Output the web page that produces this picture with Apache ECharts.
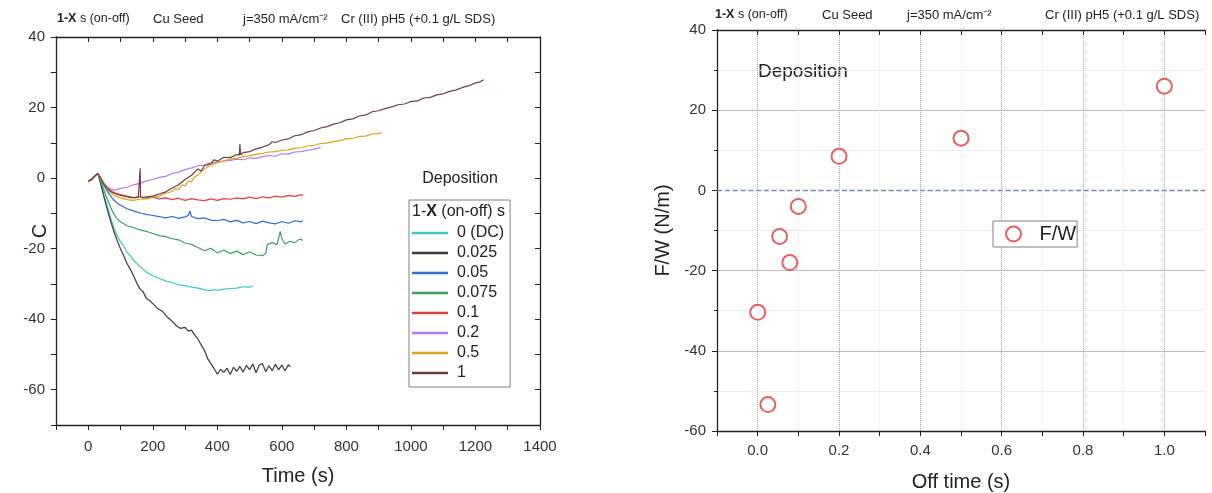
<!DOCTYPE html>
<html>
<head>
<meta charset="utf-8">
<script src="https://cdn.jsdelivr.net/npm/echarts@6/dist/echarts.min.js"></script>
<style>
html,body{margin:0;padding:0;background:#fff;}
#chart{width:1212px;height:493px;}
</style>
</head>
<body>
<div id="chart"></div>
<script>
// ---------- Data (left panel: charge vs time) ----------
const seriesNames = ['0 (DC)', '0.025', '0.05', '0.075', '0.1', '0.2', '0.5', '1'];
const seriesColors = ['#3ec6c8', '#3a3a3a', '#2f6ccc', '#3f9e63', '#e2403f', '#b57be6', '#d8a51e', '#6e3d42'];

const dDC = [[0,-0.8],[10,-0.5],[20,0.6],[30,1.3],[40,-1.8],[50,-5.2],[60,-8.3],[70,-11.5],[80,-14.2],[90,-16.4],[100,-18.1],[110,-19.3],[120,-21.0],[130,-22.0],[140,-23.3],[160,-25.1],[180,-26.6],[200,-27.7],[220,-28.4],[240,-29.2],[260,-29.6],[280,-30.3],[300,-30.5],[320,-30.9],[340,-31.2],[360,-31.7],[380,-31.9],[390,-31.6],[400,-31.8],[420,-31.5],[440,-31.3],[460,-31.2],[480,-30.8],[500,-30.9],[510,-30.6]];
const d0025 = [[0,-0.8],[10,-0.5],[20,0.6],[30,1.3],[40,-2.2],[50,-5.8],[60,-9.2],[70,-12.4],[80,-15.3],[90,-17.8],[100,-20.1],[110,-22.0],[120,-24.2],[130,-25.8],[140,-27.6],[150,-29.7],[160,-31.4],[170,-32.2],[180,-34.1],[190,-34.7],[200,-35.6],[215,-37.0],[230,-37.8],[245,-39.4],[260,-40.6],[275,-42.0],[285,-42.6],[300,-42.3],[310,-43.4],[320,-43.1],[330,-44.5],[340,-45.6],[350,-47.3],[360,-48.8],[370,-51.2],[380,-52.6],[390,-54.0],[400,-55.6],[410,-54.2],[420,-55.1],[430,-53.9],[440,-55.7],[450,-53.6],[460,-54.8],[470,-53.4],[480,-55.0],[490,-53.1],[500,-54.3],[510,-52.7],[520,-55.2],[530,-53.0],[540,-52.6],[550,-54.9],[560,-53.2],[570,-54.6],[580,-52.8],[590,-54.3],[600,-53.0],[610,-54.7],[620,-52.9],[625,-53.5]];
const d005 = [[0,-0.8],[10,-0.5],[20,0.6],[30,1.3],[40,-0.6],[50,-2.4],[60,-3.9],[70,-5.2],[80,-6.3],[90,-7.1],[100,-7.7],[120,-8.7],[140,-9.3],[160,-9.9],[180,-10.3],[200,-10.6],[220,-10.9],[240,-11.3],[260,-10.9],[280,-11.4],[300,-11.0],[310,-10.6],[315,-9.3],[320,-10.9],[340,-11.5],[360,-11.3],[380,-11.9],[400,-12.1],[420,-11.7],[440,-12.4],[460,-12.0],[480,-12.7],[500,-12.3],[520,-12.9],[540,-12.2],[560,-12.7],[580,-13.0],[600,-12.3],[620,-12.8],[640,-12.1],[660,-12.4],[665,-12.0]];
const d0075 = [[0,-0.8],[10,-0.5],[20,0.6],[30,1.3],[40,-1.2],[50,-3.8],[60,-6.2],[70,-8.4],[80,-10.3],[90,-11.6],[100,-12.4],[120,-13.5],[140,-14.0],[160,-14.7],[180,-15.1],[200,-15.7],[220,-16.3],[240,-16.6],[260,-17.2],[280,-17.5],[300,-18.4],[320,-18.8],[340,-19.7],[360,-20.6],[380,-19.9],[400,-21.2],[420,-20.4],[440,-21.4],[460,-20.7],[480,-21.7],[500,-20.9],[520,-21.8],[540,-22.0],[550,-21.4],[555,-18.8],[570,-18.3],[585,-18.9],[595,-15.1],[600,-17.2],[610,-18.7],[625,-17.9],[640,-18.3],[655,-17.3],[665,-17.6]];
const d01 = [[0,-0.8],[10,-0.5],[20,0.6],[30,1.3],[40,-0.2],[50,-1.6],[60,-2.9],[70,-3.6],[80,-4.1],[100,-4.7],[120,-5.1],[140,-5.5],[160,-5.3],[180,-5.7],[200,-5.4],[220,-5.9],[240,-5.6],[260,-6.1],[280,-5.7],[300,-6.3],[320,-5.8],[340,-6.2],[360,-6.4],[380,-5.9],[400,-6.3],[420,-5.8],[440,-6.0],[460,-5.6],[480,-5.9],[500,-5.4],[520,-5.8],[540,-5.3],[560,-5.6],[580,-5.1],[600,-5.4],[620,-4.9],[640,-5.2],[660,-4.7],[665,-4.9]];
const d02 = [[0,-0.8],[10,-0.5],[20,0.6],[30,1.3],[40,-0.4],[50,-1.7],[60,-2.6],[70,-3.1],[80,-3.4],[90,-3.2],[100,-2.9],[120,-2.6],[140,-1.9],[160,-1.5],[180,-0.8],[200,-0.4],[220,0.2],[240,0.5],[260,1.3],[280,1.7],[300,2.4],[320,2.9],[340,3.5],[360,3.7],[380,4.3],[400,4.5],[420,4.9],[440,5.0],[460,5.4],[480,5.2],[500,5.7],[520,5.6],[540,6.1],[560,6.4],[580,6.2],[600,6.9],[620,6.8],[640,7.4],[660,7.5],[680,7.9],[700,8.2],[720,8.7]];
const d05 = [[0,-0.8],[10,-0.5],[20,0.6],[30,1.3],[40,-0.5],[50,-2.1],[60,-3.3],[70,-4.2],[80,-4.9],[100,-5.6],[120,-6.1],[140,-6.3],[160,-6.0],[180,-5.9],[200,-5.4],[220,-5.1],[240,-4.3],[260,-3.8],[270,-3.0],[280,-3.3],[290,-1.9],[300,-2.2],[310,-0.8],[320,-1.1],[330,0.4],[340,0.9],[350,1.8],[360,2.6],[380,3.7],[400,4.4],[420,4.8],[440,5.4],[460,5.6],[480,6.1],[500,6.3],[520,6.8],[540,7.0],[560,7.4],[580,7.5],[600,7.9],[620,8.0],[640,8.5],[660,8.6],[680,9.1],[700,9.3],[720,9.8],[740,9.9],[760,10.4],[780,10.6],[800,11.2],[820,11.3],[840,11.8],[860,11.9],[880,12.5],[900,12.6],[910,12.9]];
const d1 = [[0,-0.8],[10,-0.5],[20,0.6],[30,1.3],[40,-0.3],[50,-2.0],[60,-3.0],[70,-3.8],[80,-4.3],[100,-4.9],[120,-5.3],[140,-5.6],[155,-5.4],[160,-5.5],[161,2.8],[162,-5.2],[170,-5.6],[180,-5.3],[200,-5.1],[220,-4.5],[240,-3.9],[260,-2.8],[280,-1.9],[300,-0.4],[320,0.8],[340,2.6],[350,2.0],[360,3.5],[380,4.1],[390,5.2],[400,4.8],[420,5.9],[440,5.8],[460,6.7],[468,6.5],[470,9.6],[472,6.6],[480,7.2],[500,7.5],[520,8.3],[540,8.8],[560,9.4],[570,10.3],[580,10.1],[600,10.8],[620,11.1],[640,12.0],[660,12.3],[680,13.1],[700,13.5],[720,14.2],[740,14.6],[760,15.3],[780,15.7],[800,16.5],[820,16.8],[840,17.6],[860,17.9],[880,18.8],[900,19.1],[920,19.7],[940,20.2],[960,20.8],[980,21.0],[1000,21.7],[1020,21.9],[1040,22.7],[1060,22.9],[1080,23.6],[1100,23.9],[1120,24.6],[1140,25.0],[1160,25.7],[1180,26.2],[1200,27.0],[1215,27.3],[1225,27.9]];
const seriesData = [dDC, d0025, d005, d0075, d01, d02, d05, d1];

// ---------- Data (right panel: F/W vs off time) ----------
const offTime = [0, 0.025, 0.054, 0.079, 0.1, 0.2, 0.5, 1.0];
const fwValues = [-30.4, -53.4, -11.5, -18.0, -4.0, 8.5, 13.0, 26.0];

// ---------- Tick labels ----------
const leftXTicks = [0, 200, 400, 600, 800, 1000, 1200, 1400];
const leftYTicks = [40, 20, 0, -20, -40, -60];
const rightXTicks = ['0.0', '0.2', '0.4', '0.6', '0.8', '1.0'];

const FONT = '"Liberation Sans", Arial, sans-serif';
const AX = '#222';
const TICKFS = 15;
const NAMEFS = 20;

const chart = echarts.init(document.getElementById('chart'), null, {renderer: 'canvas'});

const lineSeries = seriesNames.map((n, i) => ({
  name: n, type: 'line', xAxisIndex: 0, yAxisIndex: 0,
  data: seriesData[i], symbol: 'none', showSymbol: false,
  lineStyle: {width: 1.2, color: seriesColors[i]}, itemStyle: {color: seriesColors[i]},
  animation: false, z: 3
}));

const hdr = (x, y) => [
  {type: 'text', x: x[0], y: y, style: {text: '{b|1-X} s (on-off)', rich: {b: {fontWeight: 'bold', fontSize: 12.5, fontFamily: FONT, fill: '#222'}}, fontSize: 12.5, fontFamily: FONT, fill: '#222', verticalAlign: 'middle'}},
  {type: 'text', x: x[1], y: y, style: {text: 'Cu Seed', fontSize: 13, fontFamily: FONT, fill: '#222', verticalAlign: 'middle'}},
  {type: 'text', x: x[2], y: y, style: {text: 'j=350 mA/cm\u207B\u00B2', fontSize: 13, fontFamily: FONT, fill: '#222', verticalAlign: 'middle'}},
  {type: 'text', x: x[3], y: y, style: {text: 'Cr (III) pH5 (+0.1 g/L SDS)', fontSize: 13, fontFamily: FONT, fill: '#222', verticalAlign: 'middle'}}
];

const option = {
  backgroundColor: '#fff',
  animation: false,
  textStyle: {fontFamily: FONT},
  grid: [
    {left: 56, top: 37, width: 484, height: 388, outerBoundsMode: 'none', containLabel: false},
    {left: 717, top: 30, width: 488, height: 401, outerBoundsMode: 'none', containLabel: false}
  ],
  xAxis: [
    {gridIndex: 0, type: 'value', min: -100, max: 1400, interval: 100, position: 'bottom',
     name: 'Time (s)', nameLocation: 'middle', nameGap: 41, nameMoveOverlap: false,
     nameTextStyle: {fontSize: NAMEFS, color: '#222', fontFamily: FONT},
     axisLine: {show: true, onZero: false, lineStyle: {color: AX, width: 1.3}},
     axisTick: {show: true, inside: false, length: 5, lineStyle: {color: AX}},
     axisLabel: {fontSize: TICKFS, color: '#333', fontFamily: FONT, margin: 14,
       formatter: v => (leftXTicks.indexOf(Math.round(v)) >= 0 ? String(Math.round(v)) : '')},
     splitLine: {show: false}},
    {gridIndex: 0, type: 'value', min: -100, max: 1400, interval: 100, position: 'top',
     axisLine: {show: true, onZero: false, lineStyle: {color: AX, width: 1.3}},
     axisTick: {show: true, inside: true, length: 5, lineStyle: {color: AX}},
     axisLabel: {show: false}, splitLine: {show: false}},
    {gridIndex: 1, type: 'value', min: -0.1, max: 1.1, interval: 0.1, position: 'bottom',
     name: 'Off time (s)', nameLocation: 'middle', nameGap: 41, nameMoveOverlap: false,
     nameTextStyle: {fontSize: NAMEFS, color: '#222', fontFamily: FONT},
     axisLine: {show: true, onZero: false, lineStyle: {color: AX, width: 1.3}},
     axisTick: {show: true, inside: false, length: 5, lineStyle: {color: AX}},
     axisLabel: {fontSize: TICKFS, color: '#333', fontFamily: FONT, margin: 12,
       formatter: v => { const s = (Math.round(v * 10) / 10).toFixed(1); return rightXTicks.indexOf(s) >= 0 ? s : ''; }},
     splitLine: {show: true, lineStyle: {color: ['#e6e6e6', '#a8a8a8'], type: 'dotted', width: 1}}},
    {gridIndex: 1, type: 'value', min: -0.1, max: 1.1, interval: 0.1, position: 'top',
     axisLine: {show: true, onZero: false, lineStyle: {color: AX, width: 1.3}},
     axisTick: {show: true, inside: true, length: 5, lineStyle: {color: AX}},
     axisLabel: {show: false}, splitLine: {show: false}}
  ],
  yAxis: [
    {gridIndex: 0, type: 'value', min: -70, max: 40, interval: 10, position: 'left',
     name: 'C', nameLocation: 'middle', nameGap: 6, nameMoveOverlap: false,
     nameTextStyle: {fontSize: NAMEFS, color: '#222', fontFamily: FONT},
     axisLine: {show: true, onZero: false, lineStyle: {color: AX, width: 1.3}},
     axisTick: {show: true, inside: false, length: 5, lineStyle: {color: AX}},
     axisLabel: {fontSize: TICKFS, color: '#333', fontFamily: FONT, margin: 11,
       formatter: v => (leftYTicks.indexOf(Math.round(v)) >= 0 ? String(Math.round(v)) : '')},
     splitLine: {show: false}},
    {gridIndex: 0, type: 'value', min: -70, max: 40, interval: 10, position: 'right',
     axisLine: {show: true, onZero: false, lineStyle: {color: AX, width: 1.3}},
     axisTick: {show: true, inside: true, length: 5, lineStyle: {color: AX}},
     axisLabel: {show: false}, splitLine: {show: false}},
    {gridIndex: 1, type: 'value', min: -60, max: 40, interval: 20, position: 'left',
     name: 'F/W (N/m)', nameLocation: 'middle', nameGap: 44, nameMoveOverlap: false,
     nameTextStyle: {fontSize: NAMEFS, color: '#222', fontFamily: FONT},
     axisLine: {show: true, onZero: false, lineStyle: {color: AX, width: 1.3}},
     axisTick: {show: true, inside: false, length: 5, lineStyle: {color: AX}},
     minorTick: {show: true, splitNumber: 2, length: 3, lineStyle: {color: AX}},
     axisLabel: {fontSize: TICKFS, color: '#333', fontFamily: FONT, margin: 11},
     splitLine: {show: true, lineStyle: {color: ['#bdbdbd', '#bdbdbd', '#bdbdbd', 'rgba(0,0,0,0)', '#bdbdbd', '#bdbdbd'], width: 1}},
     minorSplitLine: {show: true, lineStyle: {color: '#ececec', width: 1}}}
  ],
  legend: [
    {data: seriesNames, orient: 'vertical', left: 409, top: 200, icon: 'rect',
     padding: [25, 6, 6, 3], itemGap: 4, itemWidth: 36, itemHeight: 2.4,
     borderColor: '#808080', borderWidth: 1, backgroundColor: '#fff',
     textStyle: {fontSize: 16, color: '#222', fontFamily: FONT, padding: [0, 0, 0, 4]}},
    {data: ['F/W'], orient: 'horizontal', left: 993, top: 221,
     padding: [3, 1, 3, 12], itemWidth: 24, itemHeight: 15,
     borderColor: '#808080', borderWidth: 1, backgroundColor: '#fff',
     textStyle: {fontSize: 20, color: '#222', fontFamily: FONT, padding: [0, 0, 0, 9]}}
  ],
  graphic: [
    ...hdr([57, 153, 243, 341], 19),
    ...hdr([715, 822, 907, 1045], 15),
    {type: 'text', x: 460, y: 179, style: {text: 'Deposition', fontSize: 16, fontFamily: FONT, fill: '#222', align: 'center', verticalAlign: 'middle'}},
    {type: 'text', x: 412, y: 212, z: 100, style: {text: '1-{b|X} (on-off) s', rich: {b: {fontWeight: 'bold', fontSize: 16, fontFamily: FONT, fill: '#222'}}, fontSize: 16, fontFamily: FONT, fill: '#222', verticalAlign: 'middle'}},
    {type: 'text', x: 758, y: 72, style: {text: 'Deposition', fontSize: 19, fontFamily: FONT, fill: '#222', verticalAlign: 'middle'}}
  ],
  series: [
    ...lineSeries,
    {name: 'F/W', type: 'scatter', xAxisIndex: 2, yAxisIndex: 2,
     data: offTime.map((t, i) => [t, fwValues[i]]),
     symbol: 'emptyCircle', symbolSize: 15,
     itemStyle: {color: '#e0383a', borderWidth: 1.5},
     markLine: {silent: true, symbol: 'none', label: {show: false},
       lineStyle: {type: 'dashed', color: '#7d87a8', width: 1.3},
       data: [{yAxis: 0}]},
     z: 4}
  ]
};
chart.setOption(option);
</script>
</body>
</html>
